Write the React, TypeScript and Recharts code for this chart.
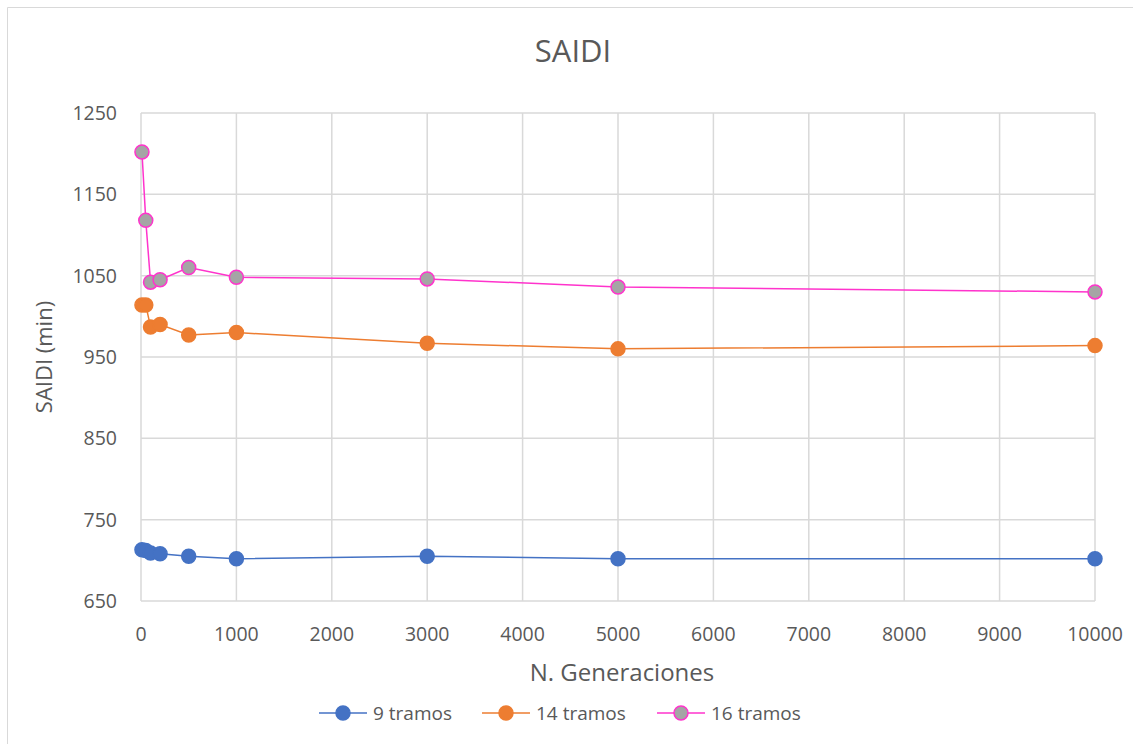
import { CartesianGrid, Line, LineChart, XAxis, YAxis } from "recharts";

const generations = [10, 50, 100, 200, 500, 1000, 3000, 5000, 10000];
const saidi9 = [713, 712, 709, 708, 705, 702, 705, 702, 702];
const saidi14 = [1014, 1014, 987, 990, 977, 980, 967, 960, 964];
const saidi16 = [1202, 1118, 1042, 1045, 1060, 1048, 1046, 1036, 1030];

const xTicks = [0, 1000, 2000, 3000, 4000, 5000, 6000, 7000, 8000, 9000, 10000];
const yTicks = [650, 750, 850, 950, 1050, 1150, 1250];

const seriesNames = ["9 tramos", "14 tramos", "16 tramos"];

const FONT = '"Open Sans", sans-serif';
const TEXT = "#595959";

const data = generations.map((g, i) => ({
  x: g,
  s9: saidi9[i],
  s14: saidi14[i],
  s16: saidi16[i],
}));

const series = [
  { key: "s9", name: seriesNames[0], line: "#4472C4", fill: "#4472C4", stroke: "#4472C4" },
  { key: "s14", name: seriesNames[1], line: "#ED7D31", fill: "#ED7D31", stroke: "#ED7D31" },
  { key: "s16", name: seriesNames[2], line: "#FF33CC", fill: "#A5A5A5", stroke: "#FF33CC" },
];

// legend item start positions
const legendX = [319, 482, 657];

export default function App() {
  const tickStyle = { fill: TEXT, fontSize: 19.5, fontFamily: FONT };
  return (
    <div
      style={{
        position: "absolute",
        left: 0,
        top: 0,
        width: 1133,
        height: 744,
        background: "#fff",
        overflow: "hidden",
      }}
    >
      <LineChart
        width={1133}
        height={744}
        data={data}
        margin={{ top: 113, right: 38, bottom: 113, left: 81 }}
      >
        <CartesianGrid stroke="#d9d9d9" strokeWidth={1.5} />
        <XAxis
          type="number"
          dataKey="x"
          domain={[0, 10000]}
          ticks={xTicks}
          height={30}
          axisLine={false}
          tickLine={false}
          tickMargin={20}
          tick={tickStyle}
          interval={0}
        />
        <YAxis
          type="number"
          domain={[650, 1250]}
          ticks={yTicks}
          width={60}
          axisLine={false}
          tickLine={false}
          tickMargin={18}
          tick={tickStyle}
          interval={0}
        />
        {series.map((s) => (
          <Line
            key={s.key}
            type="linear"
            dataKey={s.key}
            name={s.name}
            stroke={s.line}
            strokeWidth={1.5}
            dot={{ r: 7, fill: s.fill, stroke: s.stroke, strokeWidth: 1.5 }}
            activeDot={false}
            isAnimationActive={false}
          />
        ))}
      </LineChart>
      <svg
        width={1133}
        height={744}
        style={{ position: "absolute", left: 0, top: 0, pointerEvents: "none" }}
      >
        <path d="M7.5,760 L7.5,7.5 L1140,7.5" fill="none" stroke="#d9d9d9" strokeWidth={1} />
        <text x={573} y={62} textAnchor="middle" fontSize={31} fontFamily={FONT} fill={TEXT}>
          SAIDI
        </text>
        <text
          x={52}
          y={357}
          textAnchor="middle"
          fontSize={22}
          fontFamily={FONT}
          fill={TEXT}
          transform="rotate(-90 52 357)"
        >
          SAIDI (min)
        </text>
        <text x={622} y={681} textAnchor="middle" fontSize={24} fontFamily={FONT} fill={TEXT}>
          N. Generaciones
        </text>
        {series.map((s, i) => (
          <g key={s.key}>
            <line
              x1={legendX[i]}
              x2={legendX[i] + 48}
              y1={713}
              y2={713}
              stroke={s.line}
              strokeWidth={1.5}
            />
            <circle
              cx={legendX[i] + 24}
              cy={713}
              r={7}
              fill={s.fill}
              stroke={s.stroke}
              strokeWidth={1.5}
            />
            <text
              x={legendX[i] + 54}
              y={720}
              fontSize={19}
              fontFamily={FONT}
              fill={TEXT}
            >
              {s.name}
            </text>
          </g>
        ))}
      </svg>
    </div>
  );
}
